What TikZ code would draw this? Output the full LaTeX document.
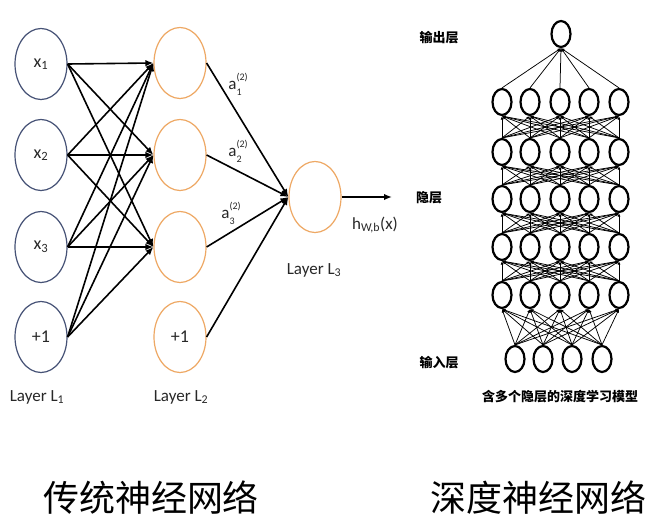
\documentclass[tikz,border=0pt]{standalone}
\usepackage{fontspec}
\setmainfont{Carlito}
\newfontfamily\cjk{Noto Sans CJK SC}
\usetikzlibrary{shapes.geometric,arrows.meta}
\definecolor{bluegray}{RGB}{70,82,118}
\definecolor{orng}{RGB}{238,168,100}
\definecolor{txt}{RGB}{40,40,40}
\pgfdeclarelayer{paper}
\pgfdeclarelayer{bg}
\pgfsetlayers{paper,bg,main}
\newcommand{\supsub}[2]{\raisebox{0.2ex}{\fontsize{10}{11}\selectfont\def\arraystretch{1.3}\begin{tabular}[c]{@{}l@{}}(#1)\\#2\end{tabular}}}
\begin{document}
\begin{tikzpicture}[x=1pt,y=-1pt,
  inp/.style={ellipse,draw=bluegray,line width=1.2pt,minimum width=52pt,minimum height=71pt,inner sep=0pt,font=\fontsize{18}{20}\selectfont,text=txt},
  hid/.style={inp,draw=orng},
  arr/.style={-{Latex[length=8pt,width=6.5pt]},line width=1.6pt},
  lbl/.style={font=\fontsize{17}{19}\selectfont,text=txt,inner sep=0pt},
  dn/.style={ellipse,draw,line width=2.2pt,minimum width=19pt,minimum height=26pt,fill=white,inner sep=0pt},
  darr/.style={-{Latex[length=3.5pt,width=3pt]},line width=0.75pt},
  clbl/.style={font=\cjk\bfseries\fontsize{13}{15}\selectfont,inner sep=0pt},
]
\begin{pgfonlayer}{paper}
\path[use as bounding box,fill=white] (0,0) rectangle (659,520);
\end{pgfonlayer}

% ---- traditional network ----
\node[inp] (i1) at (41,64) {x\textsubscript{1}};
\node[inp] (i2) at (41,155) {x\textsubscript{2}};
\node[inp] (i3) at (41,247) {x\textsubscript{3}};
\node[inp] (i4) at (41,337) {+1};
\node[hid] (h1) at (180,63) {};
\node[hid] (h2) at (180,155) {};
\node[hid] (h3) at (180,247) {};
\node[hid] (h4) at (180,337) {+1};
\node[hid] (o) at (315,197) {};
\coordinate (oend) at (392,197);

\foreach \i in {1,...,4}
  \foreach \j in {1,2,3}
    \draw[arr] (i\i.east) -- (h\j.west);
\foreach \j in {1,...,4}
  \draw[arr] (h\j.east) -- (o.west);
\draw[arr] (o.east) -- (oend);

\node[lbl] (a1) at (238,85) {a\supsub{2}{1}};
\node[lbl] (a2) at (238,152) {a\supsub{2}{2}};
\node[lbl] (a3) at (231,214) {a\supsub{2}{3}};
\node[lbl] (hx) at (375,225) {h\textsubscript{W,b}(x)};
\node[lbl] (L1) at (37,397) {Layer L\textsubscript{1}};
\node[lbl] (L2) at (181,397) {Layer L\textsubscript{2}};
\node[lbl] (L3) at (314,270) {Layer L\textsubscript{3}};

% ---- deep network ----
\node[dn] (out) at (561,34) {};
\foreach \r/\y in {1/102,2/152,3/199,4/247,5/295}
  \foreach \c/\x in {1/502,2/530,3/560,4/589,5/619}
    \node[dn] (d\r\c) at (\x,\y) {};
\foreach \c/\x in {1/515,2/543,3/572,4/602}
  \node[dn] (in\c) at (\x,359) {};

\begin{pgfonlayer}{bg}
  \foreach \i in {1,...,4}
    \foreach \j in {1,...,5}
      \draw[darr] (in\i.north) -- (d5\j.south);
  \foreach \r/\s in {5/4,4/3,3/2,2/1}
    \foreach \i in {1,...,5}
      \foreach \j in {1,...,5}
        \draw[darr] (d\r\i.north) -- (d\s\j.south);
  \foreach \j in {1,...,5}
    \draw[darr] (d1\j.north) -- (out.south);
\end{pgfonlayer}

\node[clbl] (lo) at (439,38) {输出层};
\node[clbl] (lh) at (429,198) {隐层};
\node[clbl] (li) at (439,363) {输入层};
\node[clbl] (cap) at (560,397) {含多个隐层的深度学习模型};

% ---- captions ----
\node[font=\cjk\fontsize{36}{40}\selectfont,inner sep=0pt] (t1) at (151,498) {传统神经网络};
\node[font=\cjk\fontsize{36}{40}\selectfont,inner sep=0pt] (t2) at (538,498) {深度神经网络};
\end{tikzpicture}
\end{document}
